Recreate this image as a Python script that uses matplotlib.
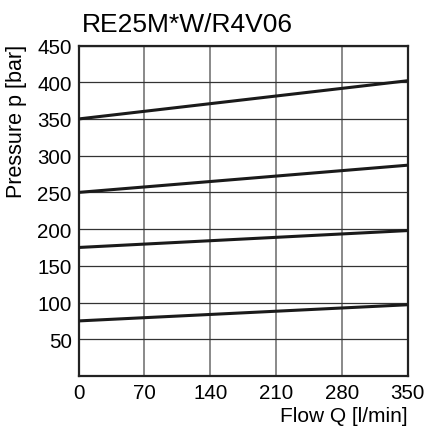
import matplotlib
matplotlib.use('Agg')
import matplotlib.pyplot as plt
import numpy as np

plt.rcParams['font.family'] = ['Liberation Sans', 'DejaVu Sans']

flow = [0, 350]
curves = [[350, 402], [250, 287], [175, 198], [75, 97]]
x_ticks = [0, 70, 140, 210, 280, 350]
y_ticks = [50, 100, 150, 200, 250, 300, 350, 400, 450]

fig = plt.figure(figsize=(4.24, 4.27), dpi=100)
ax = fig.add_axes([78.7 / 424, 1 - 377 / 427, (407.5 - 78.7) / 424, (377 - 46.5) / 427])

for c in curves:
    ax.plot(flow, c, color='#1a1a1a', lw=2.2, solid_capstyle='butt', zorder=3)

ax.set_xlim(0, 350)
ax.set_ylim(0, 450)
ax.set_xticks(x_ticks)
ax.set_yticks(y_ticks)
ax.grid(True, axis='y', color='#333333', lw=0.9)
ax.grid(True, axis='x', color='#808080', lw=1.3)
ax.set_axisbelow(True)
ax.tick_params(length=0, labelsize=14.8, pad=5, colors='black')
for s in ax.spines.values():
    s.set_linewidth(1.6)
    s.set_color('#222222')

fig.text(82 / 424, 1 - 32 / 427, 'RE25M*W/R4V06', fontsize=19, ha='left', va='baseline')
fig.text(17 / 424, 1 - 121 / 427, 'Pressure p [bar]', fontsize=15.5, rotation=90, ha='center', va='center')
fig.text(408 / 424, 1 - 422 / 427, 'Flow Q [l/min]', fontsize=15, ha='right', va='baseline')

fig.savefig('out.png', dpi=100)
